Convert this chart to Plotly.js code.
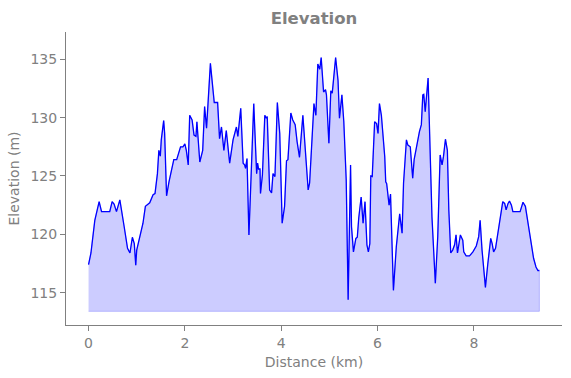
<!DOCTYPE html>
<html>
<head>
<meta charset="utf-8">
<script src="https://cdn.plot.ly/plotly-3.0.1.min.js"></script>
<style>html,body{margin:0;padding:0;background:#fff;}#chart{width:571px;height:378px;}</style>
</head>
<body>
<div id="chart"></div>
<script>
// Distance along the route (km)
const distanceKm = [
  0.00, 0.05, 0.13, 0.19, 0.22, 0.27, 0.44, 0.49, 0.53, 0.58,
  0.65, 0.74, 0.81, 0.86, 0.91, 0.95, 0.98, 1.00, 1.13, 1.18,
  1.27, 1.34, 1.38, 1.43, 1.46, 1.49, 1.51, 1.56, 1.58, 1.62,
  1.67, 1.77, 1.83, 1.91, 1.96, 2.00, 2.03, 2.07, 2.10, 2.15,
  2.19, 2.23, 2.25, 2.31, 2.37, 2.41, 2.45, 2.53, 2.61, 2.68,
  2.72, 2.76, 2.81, 2.86, 2.93, 3.00, 3.07, 3.10, 3.16, 3.21,
  3.24, 3.26, 3.29, 3.33, 3.43, 3.49, 3.51, 3.53, 3.56, 3.57,
  3.61, 3.66, 3.69, 3.71, 3.76, 3.80, 3.83, 3.87, 3.92, 3.97,
  4.02, 4.07, 4.11, 4.14, 4.20, 4.24, 4.29, 4.33, 4.38, 4.45,
  4.50, 4.56, 4.59, 4.68, 4.72, 4.76, 4.80, 4.83, 4.88, 4.92,
  4.94, 4.99, 5.03, 5.06, 5.13, 5.18, 5.21, 5.26, 5.30, 5.35,
  5.39, 5.44, 5.46, 5.50, 5.55, 5.58, 5.61, 5.66, 5.70, 5.74,
  5.78, 5.81, 5.84, 5.86, 5.89, 5.94, 5.98, 6.01, 6.04, 6.08,
  6.15, 6.17, 6.19, 6.22, 6.24, 6.27, 6.30, 6.33, 6.39, 6.46,
  6.51, 6.54, 6.60, 6.63, 6.68, 6.73, 6.76, 6.80, 6.84, 6.87,
  6.91, 6.94, 6.96, 6.99, 7.05, 7.08, 7.13, 7.20, 7.25, 7.30,
  7.34, 7.37, 7.41, 7.45, 7.48, 7.52, 7.56, 7.60, 7.63, 7.66,
  7.68, 7.72, 7.77, 7.79, 7.84, 7.91, 7.98, 8.05, 8.10, 8.13,
  8.17, 8.24, 8.29, 8.35, 8.38, 8.41, 8.45, 8.50, 8.57, 8.60,
  8.64, 8.67, 8.71, 8.74, 8.78, 8.81, 8.96, 9.02, 9.07, 9.12,
  9.19, 9.24, 9.29, 9.33, 9.36
];
// Elevation (m)
const elevationM = [
  117.4, 118.4, 121.2, 122.4, 122.8, 121.95, 121.95, 122.8, 122.6, 121.95,
  122.95, 120.65, 118.8, 118.4, 119.75, 119.2, 117.35, 118.65, 120.95, 122.4,
  122.7, 123.4, 123.5, 125.2, 127.2, 126.7, 128.1, 129.75, 128.65, 123.3,
  124.5, 126.4, 126.4, 127.5, 127.5, 127.75, 127.2, 125.95, 130.2, 129.8,
  128.5, 128.4, 129.65, 126.2, 127.2, 130.95, 129.1, 134.65, 131.3, 131.3,
  128.2, 129.2, 127.2, 128.9, 126.1, 128.1, 129.2, 128.4, 130.8, 126.1,
  125.95, 125.65, 126.5, 119.95, 131.2, 125.2, 126.1, 125.6, 125.6, 123.5,
  125.1, 130.2, 129.95, 130.1, 123.8, 123.55, 125.2, 124.95, 131.3, 128.65,
  120.95, 122.4, 126.3, 126.4, 130.4, 129.8, 129.4, 127.95, 126.6, 130.2,
  127.2, 123.8, 124.4, 131.2, 130.2, 134.6, 134.15, 135.15, 132.2, 132.4,
  131.95, 127.8, 132.3, 132.1, 135.15, 133.2, 129.95, 131.95, 129.65, 124.65,
  114.4, 125.95, 120.65, 118.5, 119.65, 119.75, 121.4, 123.2, 120.95, 122.8,
  119.1, 118.5, 119.2, 125.0, 124.95, 129.65, 129.5, 128.65, 131.2, 130.2,
  126.65, 124.5, 124.35, 122.8, 122.5, 123.45, 118.65, 115.2, 118.95, 121.75,
  120.1, 124.4, 128.1, 127.65, 127.5, 124.8, 126.4, 127.4, 128.25, 128.8,
  129.4, 131.95, 132.0, 130.5, 133.4, 129.2, 121.5, 115.8, 119.8, 126.8,
  125.95, 126.7, 128.15, 127.2, 122.1, 118.4, 118.65, 119.1, 119.95, 118.4,
  119.0, 119.95, 119.5, 118.5, 118.15, 118.15, 118.5, 119.0, 119.8, 121.2,
  118.65, 115.45, 117.5, 119.65, 119.2, 118.5, 118.8, 120.2, 121.85, 122.8,
  122.65, 122.1, 122.65, 122.85, 122.5, 121.95, 121.95, 122.75, 122.4, 121.2,
  119.25, 117.95, 117.2, 116.9, 116.9
];
const fillBaseM = 113.4;           // lower edge of the shaded area
const xTicks = [0, 2, 4, 6, 8];
const yTicks = [115, 120, 125, 130, 135];

const grey = '#808080';
const fontFam = 'DejaVu Sans, sans-serif';

const n = distanceKm.length;
const fillX = distanceKm.concat([distanceKm[n - 1], distanceKm[0]]);
const fillY = elevationM.concat([fillBaseM, fillBaseM]);

const traces = [
  {
    x: fillX, y: fillY, type: 'scatter', mode: 'lines',
    fill: 'toself', fillcolor: 'rgba(0,0,255,0.2)',
    line: {color: 'rgba(0,0,255,0.22)', width: 1},
    hoverinfo: 'skip', showlegend: false
  },
  {
    x: distanceKm, y: elevationM, type: 'scatter', mode: 'lines',
    line: {color: '#0000ff', width: 1.3},
    showlegend: false
  }
];

const layout = {
  width: 571, height: 378,
  margin: {l: 66, r: 9, t: 32, b: 53, pad: 0},
  paper_bgcolor: '#ffffff', plot_bgcolor: '#ffffff',
  font: {family: fontFam, color: grey, size: 14},
  title: {
    text: '<b>Elevation</b>', x: 0.5, xref: 'paper',
    y: 1 - 18 / 378, yref: 'container', yanchor: 'middle',
    font: {family: fontFam, size: 16.5, color: grey}
  },
  xaxis: {
    range: [-0.468, 9.83], tickvals: xTicks, ticktext: xTicks.map(String),
    showgrid: false, zeroline: false, showline: true, linecolor: grey, linewidth: 1,
    ticks: 'outside', ticklen: 5, tickwidth: 1, tickcolor: grey,
    tickfont: {size: 14, color: grey},
    title: {text: 'Distance (km)', font: {size: 14, color: grey}, standoff: 7}
  },
  yaxis: {
    range: [112.23, 137.34], tickvals: yTicks, ticktext: yTicks.map(String),
    showgrid: false, zeroline: false, showline: true, linecolor: grey, linewidth: 1,
    ticks: 'outside', ticklen: 5, tickwidth: 1, tickcolor: grey,
    tickfont: {size: 14, color: grey},
    title: {text: 'Elevation (m)', font: {size: 14, color: grey}, standoff: 7}
  }
};

Plotly.newPlot('chart', traces, layout, {staticPlot: true, displayModeBar: false});
</script>
</body>
</html>
